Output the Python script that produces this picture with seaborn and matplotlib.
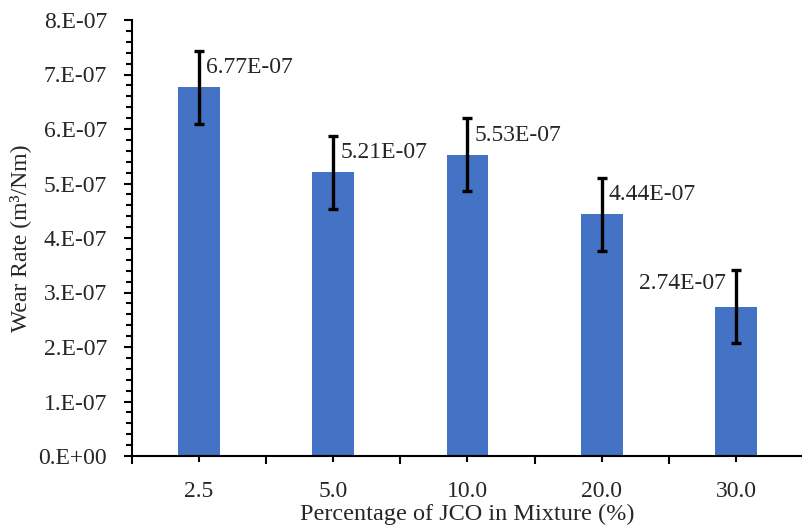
import pandas as pd
import matplotlib.pyplot as plt
import seaborn as sns
from matplotlib.ticker import MultipleLocator, FixedLocator

sns.set_style("white")
plt.rcParams['font.family'] = ['Liberation Serif', 'DejaVu Serif']

# data
jco_pct = ["2.5", "5.0", "10.0", "20.0", "30.0"]
wear_rate = [6.77e-07, 5.21e-07, 5.53e-07, 4.44e-07, 2.74e-07]
wear_err = [0.67e-07, 0.67e-07, 0.67e-07, 0.67e-07, 0.67e-07]
labels = ["6.77E-07", "5.21E-07", "5.53E-07", "4.44E-07", "2.74E-07"]
y_ticks = [0, 1e-07, 2e-07, 3e-07, 4e-07, 5e-07, 6e-07, 7e-07, 8e-07]
y_tick_labels = ["0.E+00", "1.E-07", "2.E-07", "3.E-07", "4.E-07",
                 "5.E-07", "6.E-07", "7.E-07", "8.E-07"]

df = pd.DataFrame({"JCO": jco_pct, "WearRate": wear_rate})

fig = plt.figure(figsize=(8.03, 5.28), dpi=100)
ax = fig.add_axes([132 / 803, 1 - 456 / 528, 1 - 132 / 803, (456 - 20) / 528])

sns.barplot(data=df, x="JCO", y="WearRate", order=jco_pct, color="#4472C4",
            width=0.31, saturation=1, linewidth=0, errorbar=None, ax=ax)
ax.errorbar(range(len(jco_pct)), wear_rate, yerr=wear_err, fmt="none",
            ecolor="black", elinewidth=2.4, capsize=3.5, capthick=2.4, zorder=3)

# value labels, right of the error bar except the last one
for i, (v, lab) in enumerate(zip(wear_rate, labels)):
    if i == len(jco_pct) - 1:
        ax.annotate(lab, (i, v), xytext=(-7, 17), textcoords="offset points",
                    ha="right", va="center", fontsize=17)
    else:
        ax.annotate(lab, (i, v), xytext=(5, 14), textcoords="offset points",
                    ha="left", va="center", fontsize=17)

ax.set_xlim(-0.5, len(jco_pct) - 0.5)
ax.set_ylim(0, 8e-07)
ax.set_yticks(y_ticks)
ax.set_yticklabels(y_tick_labels, fontsize=17)
ax.yaxis.set_minor_locator(MultipleLocator(0.2e-07))

# short ticks under the categories, longer ones between them
ax.set_xticks(range(len(jco_pct)))
ax.set_xticklabels(jco_pct, fontsize=17)
ax.xaxis.set_minor_locator(FixedLocator([i + 0.5 for i in range(-1, len(jco_pct))]))
ax.set_axisbelow(False)

for side in ["top", "right"]:
    ax.spines[side].set_visible(False)
for side in ["left", "bottom"]:
    ax.spines[side].set_color("black")
    ax.spines[side].set_linewidth(1.5)

ax.set_xlabel("Percentage of JCO in Mixture (%)", fontsize=17.5, labelpad=1)
ax.set_ylabel("Wear Rate (m³/Nm)", fontsize=17, labelpad=5)

ax.tick_params(axis="y", which="major", direction="out", length=6, width=1.5,
               left=True, pad=12, color="black")
ax.tick_params(axis="y", which="minor", direction="out", length=4, width=1.5,
               left=True, color="black")
ax.tick_params(axis="x", which="major", direction="out", length=4, width=1.5,
               bottom=True, pad=14, color="black")
ax.tick_params(axis="x", which="minor", direction="out", length=5.5, width=1.5,
               bottom=True, color="black")

fig.savefig("out.png", dpi=100)
